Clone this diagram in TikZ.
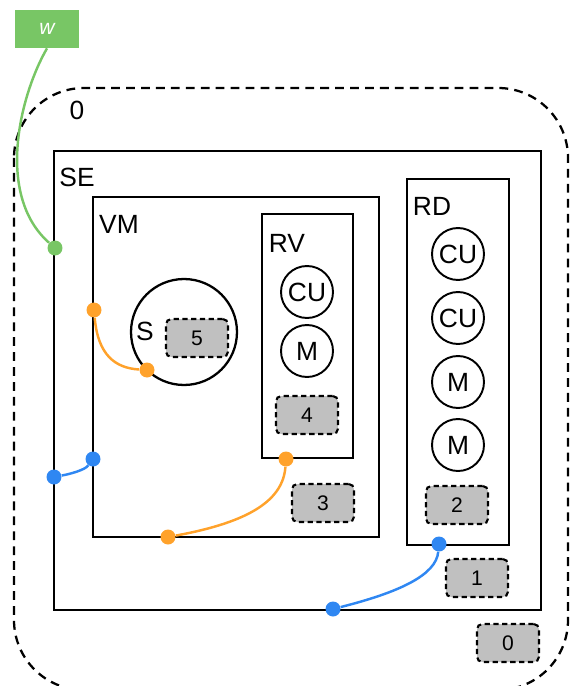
\documentclass[tikz,border=0pt]{standalone}
\usepackage{fontspec}
\setmainfont{Liberation Sans}
\usetikzlibrary{positioning}

\definecolor{wgreen}{HTML}{78C665}
\definecolor{porange}{HTML}{FFA22B}
\definecolor{pblue}{HTML}{2F87F2}
\definecolor{pgray}{HTML}{C0C0C0}

\begin{document}
\begin{tikzpicture}[
    x=0.02cm, y=-0.02cm,
    font=\fontsize{15}{17}\selectfont,
    comp/.style={draw, line width=1.4pt},
    unit/.style={draw, circle, line width=1.1pt, minimum size=1.04cm, inner sep=0pt},
    part/.style={draw, fill=pgray, dashed, dash pattern=on 3pt off 2pt, line width=1.2pt,
                 rounded corners=3pt, minimum width=1.24cm, minimum height=0.76cm,
                 font=\fontsize{12}{14}\selectfont},
    port/.style={circle, fill=#1, inner sep=0pt, minimum size=0.3cm},
    wire/.style={line width=1.4pt, #1}
  ]
  \useasboundingbox (0,0) rectangle (570,686);
  % outer domain 0
  \draw[dashed, dash pattern=on 5pt off 3.5pt, line width=1.3pt, rounded corners=1.4cm]
    (14,88) rectangle (568,690);
  \node (lzero) at (77,110) {0};
  \node[part] (p0) at (508,643) {0};

  \node[fill=wgreen, minimum width=1.3cm, minimum height=0.76cm, text=white,
        font=\fontsize{12}{14}\selectfont\itshape] (w) at (47,29) {w};

  % SE
  \draw[comp] (54,151) rectangle (541,610);
  \node (lse) at (77,177) {SE};
  \node[part] (p1) at (477,578) {1};

  % VM
  \draw[comp] (93,197) rectangle (379,537);
  \node (lvm) at (119,224) {VM};
  \node[part] (p3) at (323,503) {3};

  % S
  \node[draw, circle, line width=1.3pt, minimum size=2.12cm] (s) at (184,332) {};
  \node (ls) at (145,331) {S};
  \node[part] (p5) at (197,338) {5};

  % RV
  \draw[comp] (262,214) rectangle (353,458);
  \node (lrv) at (287,243) {RV};
  \node[unit] (rvcu) at (307,292) {CU};
  \node[unit] (rvm) at (307,351) {M};
  \node[part] (p4) at (307,415) {4};

  % RD
  \draw[comp] (407,179) rectangle (509,545);
  \node (lrd) at (432,206) {RD};
  \node[unit] (rdcua) at (458,254) {CU};
  \node[unit] (rdcub) at (458,318) {CU};
  \node[unit] (rdma) at (458,382) {M};
  \node[unit] (rdmb) at (458,445) {M};
  \node[part] (p2) at (457,505) {2};

  % ports
  \node[port=wgreen] (g1) at (55,248) {};
  \node[port=porange] (o1) at (94,310) {};
  \node[port=porange] (o2) at (147,370) {};
  \node[port=pblue] (b1) at (54,477) {};
  \node[port=pblue] (b2) at (93,459) {};
  \node[port=porange] (o3) at (168,537) {};
  \node[port=porange] (o4) at (286,459) {};
  \node[port=pblue] (b3) at (333,609) {};
  \node[port=pblue] (b4) at (439,544) {};

  \draw[wire=wgreen] (w.south) .. controls (20,95) and (-5,195) .. (g1);
  \draw[wire=porange] (o1) .. controls (98,355) and (115,368) .. (o2);
  \draw[wire=pblue] (b1) .. controls (70,474) and (85,470) .. (b2);
  \draw[wire=porange] (o3) .. controls (250,522) and (283,500) .. (o4);
  \draw[wire=pblue] (b3) .. controls (400,592) and (436,575) .. (b4);
\end{tikzpicture}
\end{document}
